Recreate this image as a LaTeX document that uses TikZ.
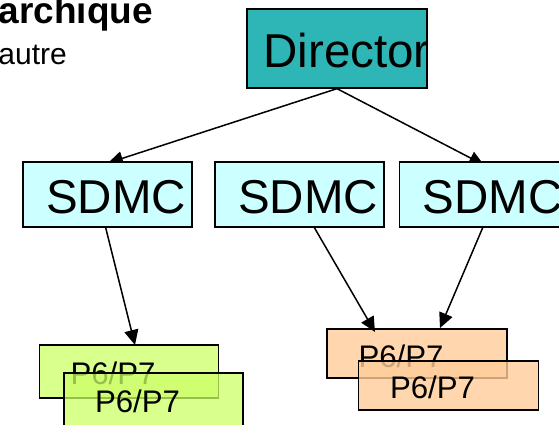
\documentclass[tikz,border=0pt]{standalone}
\usepackage{fontspec}
\setmainfont{Liberation Sans}
\usetikzlibrary{arrows.meta}
\definecolor{teal1}{HTML}{2EB5B5}
\definecolor{cyan1}{HTML}{CCFFFF}
\definecolor{lime1}{HTML}{CCFF66}
\definecolor{peach1}{HTML}{FFCC99}
\newcommand{\placedtext}[3]{\makebox[0pt][c]{\hspace*{#1pt}\raisebox{#2pt}[0pt][0pt]{#3}}}
\tikzset{
  pbox/.style={draw=black,line width=1.3pt,inner sep=0pt,anchor=center},
  dirbox/.style={pbox,fill=teal1,minimum width=180pt,minimum height=79pt,font=\fontsize{47.5}{47}\selectfont},
  sdmcbox/.style={pbox,fill=cyan1,minimum width=169pt,minimum height=65pt,font=\fontsize{47.5}{47}\selectfont},
  limebox/.style={pbox,fill=lime1,fill opacity=.75,minimum width=179pt,minimum height=53pt,text opacity=1,font=\fontsize{31.2}{31}\selectfont},
  peachbox/.style={pbox,fill=peach1,fill opacity=.8,minimum width=180pt,minimum height=49pt,text opacity=1,font=\fontsize{31.2}{31}\selectfont},
  link/.style={draw=black,line width=1.5pt,-{Triangle[length=15pt,width=14pt]}},
  plain/.style={inner sep=0pt,text=black}
}
\begin{document}
\begin{tikzpicture}[x=1pt,y=-1pt]
\useasboundingbox (0,0) rectangle (559,424);
\node[plain,anchor=base east,font=\bfseries\fontsize{37}{37}\selectfont] (title) at (153,23) {archique};
\node[plain,anchor=base east,font=\fontsize{30}{30}\selectfont] (sub) at (67,64) {autre};
\node[dirbox] (dir) at (337,48.5) {\placedtext{19}{-18.5}{Director}};
\coordinate (e1) at (108,163);
\coordinate (e2) at (484,165);
\draw[link] (dir.south) -- (e1);
\draw[link] (dir.south) -- (e2);
\node[sdmcbox] (s1) at (107.5,194.5) {\placedtext{17}{-18.5}{SDMC}};
\node[sdmcbox] (s2) at (299.5,194.5) {\placedtext{17}{-18.5}{SDMC}};
\node[sdmcbox] (s3) at (484,194.5) {\placedtext{17}{-18.5}{SDMC}};
\node[limebox] (g1) at (129,371.5) {\placedtext{-32}{-12.5}{P6/P7}};
\node[limebox,minimum height=54pt] (g2) at (153.5,400) {\placedtext{-32}{-12}{P6/P7}};
\node[peachbox] (o1) at (417,353.5) {\placedtext{-32}{-13.5}{P6/P7}};
\node[peachbox] (o2) at (448.5,385.5) {\placedtext{-32}{-12.5}{P6/P7}};
\coordinate (b1) at (105.5,227);
\coordinate (b2) at (314,227);
\coordinate (b3) at (483,227);
\coordinate (t1) at (135,345);
\coordinate (t2) at (375,332);
\coordinate (t3) at (440,328);
\draw[link] (b1) -- (t1);
\draw[link] (b2) -- (t2);
\draw[link] (b3) -- (t3);
\end{tikzpicture}
\end{document}
